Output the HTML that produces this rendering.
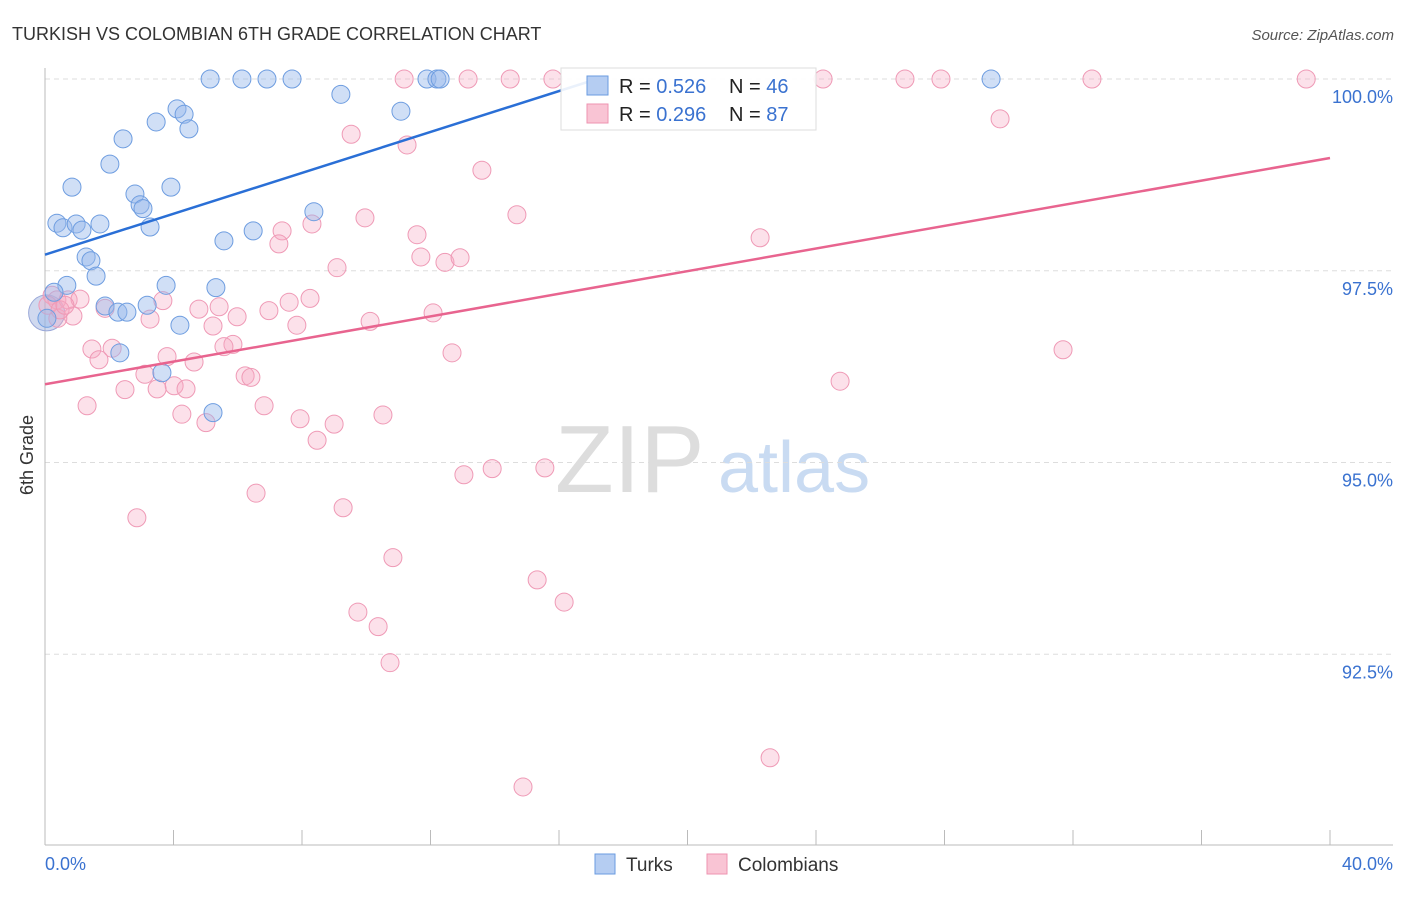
<!DOCTYPE html>
<html><head><meta charset="utf-8"><style>
body{margin:0;background:#fff;font-family:"Liberation Sans",sans-serif}
svg text{font-family:"Liberation Sans",sans-serif}
</style></head><body>
<svg id="chart" width="1406" height="892" xmlns="http://www.w3.org/2000/svg">
<text x="12" y="40" font-size="18" fill="#333">TURKISH VS COLOMBIAN 6TH GRADE CORRELATION CHART</text>
<text x="1394" y="40" font-size="15" fill="#555" font-style="italic" text-anchor="end">Source: ZipAtlas.com</text>
<text x="33" y="455" font-size="18" fill="#333" text-anchor="middle" transform="rotate(-90 33 455)">6th Grade</text>
<g><text x="555" y="492" font-size="96" fill="#ddd" font-family="Liberation Serif">ZIP</text><text x="718" y="492" font-size="72" fill="#c9dbf2">atlas</text></g>
<g id="grid"></g><g id="axes"></g><g id="pts"></g><g id="trend"></g>
<g>
<rect x="561" y="68" width="255" height="62" fill="#fff" fill-opacity="0.9" stroke="#ddd"/>
<rect x="587" y="76" width="21" height="19" fill="#b5cdf2" stroke="#6a9be0"/>
<rect x="587" y="104" width="21" height="19" fill="#f9c4d4" stroke="#ee93b0"/>
<text x="619" y="93" font-size="20" fill="#222">R = <tspan fill="#3a72d0">0.526</tspan></text>
<text x="729" y="93" font-size="20" fill="#222">N = <tspan fill="#3a72d0">46</tspan></text>
<text x="619" y="121" font-size="20" fill="#222">R = <tspan fill="#3a72d0">0.296</tspan></text>
<text x="729" y="121" font-size="20" fill="#222">N = <tspan fill="#3a72d0">87</tspan></text>
</g>
<g>
<rect x="595" y="854" width="20" height="20" fill="#b5cdf2" stroke="#6a9be0"/>
<text x="626" y="871" font-size="19" fill="#333">Turks</text>
<rect x="707" y="854" width="20" height="20" fill="#f9c4d4" stroke="#ee93b0"/>
<text x="738" y="871" font-size="19" fill="#333">Colombians</text>
</g>
</svg>
<script>
const turksX=[5.14,6.13,6.91,7.69,11.89,12.20,12.30,29.45,9.21,11.08,4.11,4.33,4.48,3.46,2.43,2.02,0.84,2.80,3.92,2.96,3.05,0.37,0.56,0.97,1.15,1.71,3.27,8.37,6.48,5.57,1.28,1.43,1.59,0.68,3.77,5.32,0.28,0.06,1.87,2.27,2.55,3.18,4.20,2.33,3.64,5.23];
const turksY=[100,100,100,100,100,100,100,100,99.80,99.58,99.61,99.54,99.35,99.44,99.22,98.89,98.59,98.50,98.59,98.36,98.31,98.12,98.06,98.11,98.03,98.11,98.07,98.27,98.02,97.89,97.68,97.63,97.43,97.31,97.31,97.28,97.22,96.88,97.04,96.96,96.96,97.05,96.79,96.43,96.17,95.65];
const colX=[11.18,13.17,14.48,15.81,24.22,26.77,27.89,32.59,39.26,29.73,9.53,11.27,13.60,14.69,9.96,8.31,7.38,7.28,11.58,9.09,11.70,12.45,12.92,22.26,0.22,0.37,0.72,1.09,3.67,4.79,5.42,5.98,6.97,7.60,8.25,7.84,5.23,3.27,0.87,1.87,0.40,12.08,10.12,2.09,1.46,1.68,5.85,5.57,3.80,4.64,3.11,6.23,6.41,12.67,31.69,24.75,2.49,3.49,4.02,4.39,1.31,4.26,5.01,6.82,7.94,9.00,10.52,8.47,6.57,9.28,2.86,13.04,13.92,15.56,10.83,15.32,16.16,9.74,10.37,10.74,22.57,14.88,0.09,0.47,0.62];
const colY=[100,100,100,100,100,100,100,100,100,99.48,99.28,99.14,98.81,98.23,98.19,98.11,98.02,97.85,97.97,97.54,97.68,97.61,97.67,97.93,97.18,97.12,97.12,97.13,97.11,97.00,97.03,96.90,96.98,97.09,97.14,96.79,96.78,96.87,96.91,97.01,96.88,96.95,96.84,96.49,96.48,96.34,96.54,96.51,96.38,96.31,96.15,96.13,96.11,96.43,96.47,96.06,95.95,95.96,96.00,95.96,95.74,95.63,95.52,95.74,95.57,95.50,95.62,95.29,94.60,94.41,94.28,94.84,94.92,94.93,93.76,93.47,93.18,93.05,92.86,92.39,91.15,90.77,97.05,96.99,97.05];
const yTicks=[100,97.5,95,92.5];
const yTickLabels=["100.0%","97.5%","95.0%","92.5%"];
const xTicks=[0,4,8,12,16,20,24,28,32,36,40];
const turksTrend=[97.71,0.1333];
const colTrend=[96.02,0.07375];
const NS="http://www.w3.org/2000/svg";
const X=v=>45+v/40*1285, Y=v=>79+(100-v)*76.7;
function mk(t,a,p){const e=document.createElementNS(NS,t);for(const k in a)e.setAttribute(k,a[k]);document.getElementById(p).appendChild(e);return e;}
yTicks.forEach((v,i)=>{
 const l=mk('line',{x1:45,x2:1393,y1:Y(v),y2:Y(v),stroke:'#ddd','stroke-dasharray':'5,4'},'grid');
 
 
 const t=mk('text',{x:1393,y:Y(v)+24,'font-size':18,fill:'#3a72d0','text-anchor':'end'},'grid');t.textContent=yTickLabels[i];
 
 
});
const ax=mk('line',{x1:45,x2:45,y1:68,y2:845,stroke:'#bbb'},'axes');


const bx=mk('line',{x1:45,x2:1393,y1:845,y2:845,stroke:'#bbb'},'axes');


xTicks.forEach(v=>{const t=mk('line',{x1:X(v),x2:X(v),y1:830,y2:845,stroke:'#bbb'},'axes');
 
 });
const xl0=mk('text',{x:45,y:870,'font-size':18,fill:'#3a72d0'},'axes');xl0.textContent=xTicks[0].toFixed(1)+'%';


const xl1=mk('text',{x:1393,y:870,'font-size':18,fill:'#3a72d0','text-anchor':'end'},'axes');xl1.textContent=xTicks[xTicks.length-1].toFixed(1)+'%';


const big1=mk('circle',{cx:X(0.05),cy:Y(96.95),r:18,fill:'rgba(150,170,220,0.45)',stroke:'#9aa8d8'},'pts');


colX.forEach((x,i)=>{const c=mk('circle',{cx:X(x),cy:Y(colY[i]),r:9,fill:'rgba(246,170,195,0.35)',stroke:'#ef9ab6','stroke-width':1},'pts');
 
 });
turksX.forEach((x,i)=>{const c=mk('circle',{cx:X(x),cy:Y(turksY[i]),r:9,fill:'rgba(150,185,235,0.45)',stroke:'#6e9de0','stroke-width':1},'pts');
 
 });
const tx=(100-turksTrend[0])/turksTrend[1];
const t1=mk('line',{x1:X(0),y1:Y(turksTrend[0]),x2:X(tx),y2:Y(100),stroke:'#2a6fd6','stroke-width':2.5},'trend');


const t2=mk('line',{x1:X(0),y1:Y(colTrend[0]),x2:X(40),y2:Y(colTrend[0]+40*colTrend[1]),stroke:'#e8648f','stroke-width':2.5},'trend');


</script>
</body></html>
